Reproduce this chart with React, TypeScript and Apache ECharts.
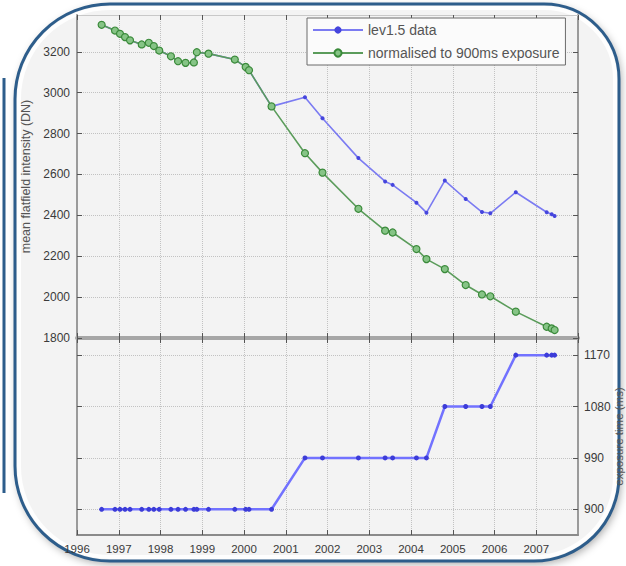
import React, { useEffect, useRef } from "react";
import * as echarts from "echarts";

// Observation dates (decimal years)
const years = [
  1996.59, 1996.91, 1997.03, 1997.15, 1997.27, 1997.55, 1997.72, 1997.84, 1997.97,
  1998.25, 1998.42, 1998.6, 1998.8, 1998.87, 1999.15, 1999.78, 2000.04, 2000.12,
  2000.66, 2001.46, 2001.88, 2002.74, 2003.38, 2003.56, 2004.13, 2004.37, 2004.81,
  2005.31, 2005.7, 2005.9, 2006.51, 2007.25, 2007.37, 2007.44,
];

// lev1.5 data (DN)
const lev15 = [
  3332, 3304, 3288, 3272, 3256, 3236, 3244, 3228, 3206,
  3178, 3154, 3146, 3148, 3198, 3191, 3162, 3126, 3110,
  2933, 2978, 2875, 2680, 2566, 2549, 2462, 2413, 2570,
  2480, 2416, 2410, 2513, 2415, 2405, 2397,
];

// normalised to 900ms exposure (DN)
const normalised = [
  3332, 3304, 3288, 3272, 3256, 3236, 3244, 3228, 3206,
  3178, 3154, 3146, 3148, 3198, 3191, 3162, 3126, 3110,
  2933, 2704, 2609, 2432, 2325, 2316, 2235, 2186, 2137,
  2059, 2013, 2004, 1929, 1855, 1847, 1839,
];

// exposure time (ms)
const exposure = [
  900, 900, 900, 900, 900, 900, 900, 900, 900,
  900, 900, 900, 900, 900, 900, 900, 900, 900,
  900, 990, 990, 990, 990, 990, 990, 990, 1080,
  1080, 1080, 1080, 1170, 1170, 1170, 1170,
];

const intensityTicks = [1800, 2000, 2200, 2400, 2600, 2800, 3000, 3200];
const exposureTicks = [900, 990, 1080, 1170];

const seriesNames = ["lev1.5 data", "normalised to 900ms exposure"];
const leftAxisName = "mean flatfield intensity (DN)";
const rightAxisName = "exposure time (ms)";

const FONT = "'Liberation Sans', Arial, sans-serif";
const FRAME = "#2d5d8b";

export default function App() {
  const ref = useRef<HTMLDivElement>(null);

  useEffect(() => {
    if (!ref.current) return;
    const chart = echarts.init(ref.current, null, { renderer: "svg" });

    const pair = (ys: number[]) => years.map((x, i) => [x, ys[i]]);

    const gridLine = { show: true, lineStyle: { type: "dotted", color: "#c2c2c2", width: 1 } };
    const tickIn = { show: true, inside: true, length: 5, lineStyle: { color: "#555", width: 1 } };
    const labelStyle = { color: "#3a3a3a", fontSize: 12, fontFamily: FONT };

    const xBase = { type: "value", min: 1996, max: 2008, interval: 1 };

    const option: any = {
      animation: false,
      textStyle: { fontFamily: FONT },
      grid: [
        { left: 77, right: 48, top: 15, height: 323, outerBoundsMode: "none", containLabel: false },
        { left: 77, right: 48, top: 338, height: 197, outerBoundsMode: "none", containLabel: false },
      ],
      legend: {
        data: seriesNames,
        orient: "vertical",
        left: 307,
        top: 18,
        padding: [5, 6, 5, 5],
        itemWidth: 50,
        itemHeight: 9,
        itemGap: 9,
        backgroundColor: "#fbfbfb",
        borderColor: "#6a6a6a",
        borderWidth: 1,
        textStyle: { color: "#555", fontSize: 14, fontFamily: FONT },
      },
      xAxis: [
        {
          ...xBase,
          gridIndex: 0,
          position: "bottom",
          axisLine: { show: true, lineStyle: { color: "#a6a6a6", width: 4 } },
          axisTick: tickIn,
          axisLabel: { show: false },
          splitLine: gridLine,
        },
        {
          ...xBase,
          gridIndex: 0,
          position: "top",
          axisLine: { show: true, lineStyle: { color: "#c8c8c8", width: 1 } },
          axisTick: tickIn,
          axisLabel: { show: false },
          splitLine: { show: false },
        },
        {
          ...xBase,
          gridIndex: 1,
          position: "bottom",
          axisLine: { show: true, lineStyle: { color: "#8a8a8a", width: 2 } },
          axisTick: tickIn,
          axisLabel: {
            ...labelStyle,
            fontSize: 11.5,
            margin: 8,
            showMaxLabel: false,
            formatter: (v: number) => String(Math.round(v)),
          },
          splitLine: gridLine,
        },
        {
          ...xBase,
          gridIndex: 1,
          position: "top",
          axisLine: { show: false },
          axisTick: tickIn,
          axisLabel: { show: false },
          splitLine: { show: false },
        },
      ],
      yAxis: [
        {
          type: "value",
          gridIndex: 0,
          position: "left",
          min: 1800,
          max: 3380,
          interval: 200,
          axisLine: { show: true, lineStyle: { color: "#9a9a9a", width: 2 } },
          axisTick: { ...tickIn, customValues: intensityTicks },
          axisLabel: {
            ...labelStyle,
            margin: 7,
            customValues: intensityTicks,
            formatter: (v: number) => (intensityTicks.includes(v) ? String(v) : ""),
          },
          splitLine: gridLine,
          name: leftAxisName,
          nameLocation: "middle",
          nameRotate: 90,
          nameGap: 43,
          nameTextStyle: { color: "#555", fontSize: 12.5, fontFamily: FONT },
        },
        {
          type: "value",
          gridIndex: 0,
          position: "right",
          min: 1800,
          max: 3380,
          interval: 200,
          axisLine: { show: true, lineStyle: { color: "#9a9a9a", width: 2 } },
          axisTick: { ...tickIn, customValues: intensityTicks },
          axisLabel: { show: false },
          splitLine: { show: false },
        },
        {
          type: "value",
          gridIndex: 1,
          position: "right",
          min: 855,
          max: 1200,
          interval: 45,
          axisLine: { show: true, lineStyle: { color: "#9a9a9a", width: 2 } },
          axisTick: { ...tickIn, customValues: exposureTicks },
          axisLabel: {
            ...labelStyle,
            margin: 6,
            customValues: exposureTicks,
            formatter: (v: number) => (exposureTicks.includes(v) ? String(v) : ""),
          },
          splitLine: gridLine,
          name: rightAxisName,
          nameLocation: "middle",
          nameRotate: 90,
          nameGap: 35,
          nameMoveOverlap: false,
          nameTextStyle: { color: "#555", fontSize: 11.5, fontFamily: FONT },
        },
        {
          type: "value",
          gridIndex: 1,
          position: "left",
          min: 855,
          max: 1200,
          interval: 45,
          axisLine: { show: true, lineStyle: { color: "#9a9a9a", width: 2 } },
          axisTick: { ...tickIn, customValues: exposureTicks },
          axisLabel: { show: false },
          splitLine: { show: false },
        },
      ],
      series: [
        {
          name: seriesNames[0],
          type: "line",
          xAxisIndex: 0,
          yAxisIndex: 0,
          data: pair(lev15),
          symbol: "circle",
          symbolSize: 4,
          lineStyle: { color: "#7b7bf2", width: 1.6 },
          itemStyle: { color: "#4545dd" },
          z: 3,
        },
        {
          name: seriesNames[1],
          type: "line",
          xAxisIndex: 0,
          yAxisIndex: 0,
          data: pair(normalised),
          symbol: "circle",
          symbolSize: 7,
          lineStyle: { color: "#5b9c5b", width: 1.6 },
          itemStyle: { color: "#86c486", borderColor: "#3a8a3a", borderWidth: 1.2 },
          z: 4,
        },
        {
          name: "exposure",
          type: "line",
          xAxisIndex: 2,
          yAxisIndex: 2,
          data: pair(exposure),
          symbol: "circle",
          symbolSize: 5,
          lineStyle: { color: "#7272ff", width: 2.5 },
          itemStyle: { color: "#3c3cd8" },
          z: 3,
        },
      ],
      graphic: [
        {
          type: "rect",
          silent: true,
          z: -100,
          shape: { x: 15, y: 4, width: 604, height: 557, r: [95, 75, 85, 95] },
          style: {
            fill: "#f3f3f3",
            shadowBlur: 8,
            shadowColor: "rgba(0,0,0,0.35)",
            shadowOffsetX: 2,
            shadowOffsetY: 3,
          },
        },
        {
          type: "rect",
          silent: true,
          z: -60,
          shape: { x: 19, y: 8, width: 596, height: 549, r: [91, 71, 81, 91] },
          style: { fill: "none", stroke: "rgba(255,255,255,0.85)", lineWidth: 4 },
        },
        {
          type: "rect",
          silent: true,
          z: -50,
          shape: { x: 15, y: 4, width: 604, height: 557, r: [95, 75, 85, 95] },
          style: { fill: "none", stroke: FRAME, lineWidth: 3 },
        },
        {
          type: "line",
          silent: true,
          z: -50,
          shape: { x1: 4, y1: 78, x2: 4, y2: 493 },
          style: { stroke: FRAME, lineWidth: 3 },
        },
      ],
    };

    chart.setOption(option);
    return () => chart.dispose();
  }, []);

  return (
    <div
      ref={ref}
      style={{ position: "absolute", left: 0, top: 0, width: 626, height: 566 }}
    />
  );
}
